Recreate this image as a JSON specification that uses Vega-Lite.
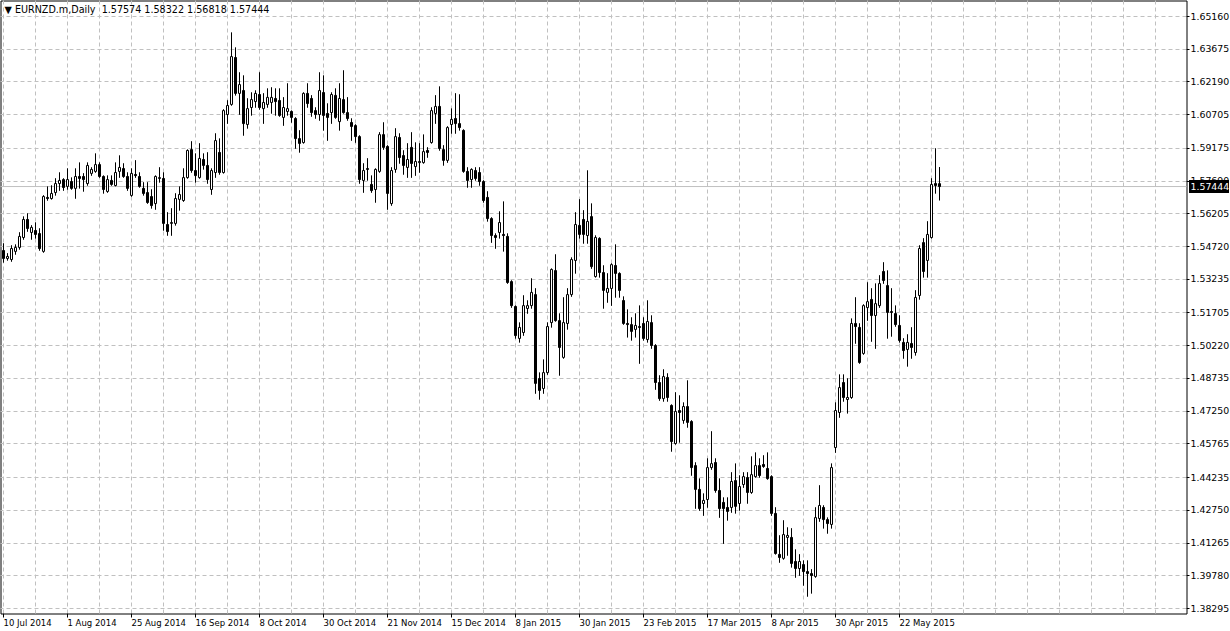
{
"$schema": "https://vega.github.io/schema/vega-lite/v6.json",
"width": 1186, "height": 613,
"autosize": {"type": "none"},
"padding": {"left": 0.5, "top": 0.5, "right": 43.5, "bottom": 17.5},
"background": "white",
"config": {"view": {"stroke": "black", "strokeWidth": 1}, "font": "DejaVu Sans",
 "scale": {"continuousPadding": 0},
 "axis": {"labelOverlap": false, "labelFlush": false, "labelBound": false, "title": null, "domain": false, "translate": 0,
  "gridColor": "#c0c0c0", "gridDash": [4, 3], "gridWidth": 1, "tickColor": "black",
  "labelFont": "DejaVu Sans", "labelFontSize": 9, "labelColor": "black"}},
"title": {"text": "▼ EURNZD.m,Daily\u00a0 1.57574 1.58322 1.56818 1.57444", "anchor": "start", "frame": "group", "offset": -14, "font": "DejaVu Sans", "fontSize": 9.6, "fontWeight": "normal", "color": "black", "dx": 4},
"data": {"values": [
{"i":0,"o":1.5454,"h":1.5486,"l":1.5400,"c":1.5418},
{"i":1,"o":1.5418,"h":1.5441,"l":1.5409,"c":1.5427},
{"i":2,"o":1.5413,"h":1.5477,"l":1.5404,"c":1.5463},
{"i":3,"o":1.5450,"h":1.5481,"l":1.5436,"c":1.5468},
{"i":4,"o":1.5468,"h":1.5536,"l":1.5459,"c":1.5518},
{"i":5,"o":1.5513,"h":1.5608,"l":1.5504,"c":1.5595},
{"i":6,"o":1.5595,"h":1.5622,"l":1.5540,"c":1.5554},
{"i":7,"o":1.5536,"h":1.5568,"l":1.5504,"c":1.5559},
{"i":8,"o":1.5545,"h":1.5581,"l":1.5509,"c":1.5527},
{"i":9,"o":1.5531,"h":1.5554,"l":1.5454,"c":1.5463},
{"i":10,"o":1.5450,"h":1.5704,"l":1.5445,"c":1.5699},
{"i":11,"o":1.5695,"h":1.5745,"l":1.5681,"c":1.5690},
{"i":12,"o":1.5690,"h":1.5749,"l":1.5686,"c":1.5713},
{"i":13,"o":1.5717,"h":1.5781,"l":1.5704,"c":1.5758},
{"i":14,"o":1.5758,"h":1.5808,"l":1.5726,"c":1.5772},
{"i":15,"o":1.5776,"h":1.5781,"l":1.5726,"c":1.5740},
{"i":16,"o":1.5745,"h":1.5826,"l":1.5731,"c":1.5776},
{"i":17,"o":1.5767,"h":1.5785,"l":1.5731,"c":1.5736},
{"i":18,"o":1.5736,"h":1.5826,"l":1.5690,"c":1.5790},
{"i":19,"o":1.5790,"h":1.5853,"l":1.5736,"c":1.5781},
{"i":20,"o":1.5790,"h":1.5804,"l":1.5722,"c":1.5776},
{"i":21,"o":1.5758,"h":1.5853,"l":1.5749,"c":1.5840},
{"i":22,"o":1.5804,"h":1.5831,"l":1.5794,"c":1.5822},
{"i":23,"o":1.5813,"h":1.5894,"l":1.5808,"c":1.5844},
{"i":24,"o":1.5844,"h":1.5853,"l":1.5785,"c":1.5790},
{"i":25,"o":1.5790,"h":1.5794,"l":1.5713,"c":1.5731},
{"i":26,"o":1.5722,"h":1.5794,"l":1.5717,"c":1.5776},
{"i":27,"o":1.5772,"h":1.5794,"l":1.5749,"c":1.5754},
{"i":28,"o":1.5749,"h":1.5853,"l":1.5745,"c":1.5808},
{"i":29,"o":1.5813,"h":1.5885,"l":1.5785,"c":1.5831},
{"i":30,"o":1.5826,"h":1.5849,"l":1.5785,"c":1.5790},
{"i":31,"o":1.5790,"h":1.5808,"l":1.5726,"c":1.5736},
{"i":32,"o":1.5704,"h":1.5826,"l":1.5699,"c":1.5804},
{"i":33,"o":1.5799,"h":1.5863,"l":1.5785,"c":1.5794},
{"i":34,"o":1.5790,"h":1.5808,"l":1.5740,"c":1.5745},
{"i":35,"o":1.5736,"h":1.5763,"l":1.5704,"c":1.5713},
{"i":36,"o":1.5717,"h":1.5763,"l":1.5667,"c":1.5672},
{"i":37,"o":1.5699,"h":1.5731,"l":1.5645,"c":1.5658},
{"i":38,"o":1.5667,"h":1.5794,"l":1.5640,"c":1.5790},
{"i":39,"o":1.5781,"h":1.5831,"l":1.5763,"c":1.5785},
{"i":40,"o":1.5781,"h":1.5808,"l":1.5545,"c":1.5577},
{"i":41,"o":1.5572,"h":1.5627,"l":1.5522,"c":1.5540},
{"i":42,"o":1.5577,"h":1.5645,"l":1.5522,"c":1.5581},
{"i":43,"o":1.5577,"h":1.5713,"l":1.5568,"c":1.5690},
{"i":44,"o":1.5686,"h":1.5745,"l":1.5636,"c":1.5708},
{"i":45,"o":1.5681,"h":1.5826,"l":1.5676,"c":1.5785},
{"i":46,"o":1.5785,"h":1.5912,"l":1.5781,"c":1.5908},
{"i":47,"o":1.5912,"h":1.5949,"l":1.5808,"c":1.5817},
{"i":48,"o":1.5817,"h":1.5894,"l":1.5763,"c":1.5794},
{"i":49,"o":1.5785,"h":1.5940,"l":1.5781,"c":1.5872},
{"i":50,"o":1.5867,"h":1.5894,"l":1.5822,"c":1.5840},
{"i":51,"o":1.5840,"h":1.5899,"l":1.5758,"c":1.5776},
{"i":52,"o":1.5731,"h":1.5826,"l":1.5708,"c":1.5817},
{"i":53,"o":1.5808,"h":1.5985,"l":1.5785,"c":1.5953},
{"i":54,"o":1.5899,"h":1.5962,"l":1.5799,"c":1.5808},
{"i":55,"o":1.5808,"h":1.6094,"l":1.5804,"c":1.6089},
{"i":56,"o":1.6071,"h":1.6135,"l":1.6030,"c":1.6112},
{"i":57,"o":1.6117,"h":1.6443,"l":1.6112,"c":1.6334},
{"i":58,"o":1.6330,"h":1.6375,"l":1.6158,"c":1.6167},
{"i":59,"o":1.6167,"h":1.6262,"l":1.6071,"c":1.6207},
{"i":60,"o":1.6180,"h":1.6248,"l":1.5976,"c":1.6030},
{"i":61,"o":1.6026,"h":1.6144,"l":1.6008,"c":1.6098},
{"i":62,"o":1.6103,"h":1.6171,"l":1.6067,"c":1.6139},
{"i":63,"o":1.6130,"h":1.6180,"l":1.6103,"c":1.6167},
{"i":64,"o":1.6162,"h":1.6262,"l":1.6094,"c":1.6103},
{"i":65,"o":1.6098,"h":1.6167,"l":1.6030,"c":1.6126},
{"i":66,"o":1.6117,"h":1.6189,"l":1.6103,"c":1.6149},
{"i":67,"o":1.6126,"h":1.6194,"l":1.6076,"c":1.6149},
{"i":68,"o":1.6144,"h":1.6189,"l":1.6067,"c":1.6130},
{"i":69,"o":1.6135,"h":1.6189,"l":1.6062,"c":1.6067},
{"i":70,"o":1.6058,"h":1.6149,"l":1.6021,"c":1.6103},
{"i":71,"o":1.6085,"h":1.6212,"l":1.6067,"c":1.6098},
{"i":72,"o":1.6085,"h":1.6089,"l":1.6035,"c":1.6058},
{"i":73,"o":1.6053,"h":1.6058,"l":1.5917,"c":1.5962},
{"i":74,"o":1.5962,"h":1.5999,"l":1.5899,"c":1.5940},
{"i":75,"o":1.5944,"h":1.6171,"l":1.5940,"c":1.6167},
{"i":76,"o":1.6167,"h":1.6212,"l":1.6103,"c":1.6121},
{"i":77,"o":1.6144,"h":1.6158,"l":1.6062,"c":1.6080},
{"i":78,"o":1.6089,"h":1.6103,"l":1.6053,"c":1.6071},
{"i":79,"o":1.6071,"h":1.6262,"l":1.6044,"c":1.6180},
{"i":80,"o":1.6171,"h":1.6248,"l":1.5999,"c":1.6067},
{"i":81,"o":1.6076,"h":1.6121,"l":1.5953,"c":1.6058},
{"i":82,"o":1.6080,"h":1.6171,"l":1.6030,"c":1.6162},
{"i":83,"o":1.6158,"h":1.6189,"l":1.6053,"c":1.6058},
{"i":84,"o":1.6039,"h":1.6212,"l":1.5999,"c":1.6144},
{"i":85,"o":1.6139,"h":1.6271,"l":1.6076,"c":1.6080},
{"i":86,"o":1.6080,"h":1.6149,"l":1.6044,"c":1.6053},
{"i":87,"o":1.6035,"h":1.6053,"l":1.5953,"c":1.6017},
{"i":88,"o":1.6021,"h":1.6026,"l":1.5944,"c":1.5971},
{"i":89,"o":1.5971,"h":1.5976,"l":1.5758,"c":1.5776},
{"i":90,"o":1.5772,"h":1.5849,"l":1.5717,"c":1.5817},
{"i":91,"o":1.5826,"h":1.5872,"l":1.5772,"c":1.5822},
{"i":92,"o":1.5754,"h":1.5794,"l":1.5717,"c":1.5726},
{"i":93,"o":1.5731,"h":1.5826,"l":1.5672,"c":1.5822},
{"i":94,"o":1.5813,"h":1.5990,"l":1.5808,"c":1.5980},
{"i":95,"o":1.5980,"h":1.6035,"l":1.5912,"c":1.5922},
{"i":96,"o":1.5926,"h":1.5931,"l":1.5640,"c":1.5713},
{"i":97,"o":1.5667,"h":1.5831,"l":1.5658,"c":1.5817},
{"i":98,"o":1.5822,"h":1.6008,"l":1.5808,"c":1.5971},
{"i":99,"o":1.5967,"h":1.5985,"l":1.5849,"c":1.5876},
{"i":100,"o":1.5885,"h":1.5908,"l":1.5799,"c":1.5840},
{"i":101,"o":1.5831,"h":1.5940,"l":1.5785,"c":1.5867},
{"i":102,"o":1.5922,"h":1.5990,"l":1.5785,"c":1.5849},
{"i":103,"o":1.5835,"h":1.5944,"l":1.5794,"c":1.5858},
{"i":104,"o":1.5853,"h":1.5940,"l":1.5808,"c":1.5858},
{"i":105,"o":1.5853,"h":1.5980,"l":1.5849,"c":1.5903},
{"i":106,"o":1.5908,"h":1.5922,"l":1.5876,"c":1.5899},
{"i":107,"o":1.5944,"h":1.6103,"l":1.5940,"c":1.6089},
{"i":108,"o":1.6076,"h":1.6158,"l":1.6030,"c":1.6108},
{"i":109,"o":1.6108,"h":1.6198,"l":1.5908,"c":1.5917},
{"i":110,"o":1.5912,"h":1.5931,"l":1.5840,"c":1.5863},
{"i":111,"o":1.5863,"h":1.6017,"l":1.5853,"c":1.6012},
{"i":112,"o":1.6026,"h":1.6098,"l":1.5985,"c":1.6049},
{"i":113,"o":1.6053,"h":1.6167,"l":1.5985,"c":1.6030},
{"i":114,"o":1.6030,"h":1.6162,"l":1.5999,"c":1.6012},
{"i":115,"o":1.5999,"h":1.6003,"l":1.5808,"c":1.5813},
{"i":116,"o":1.5813,"h":1.5831,"l":1.5740,"c":1.5772},
{"i":117,"o":1.5776,"h":1.5826,"l":1.5740,"c":1.5822},
{"i":118,"o":1.5817,"h":1.5831,"l":1.5772,"c":1.5781},
{"i":119,"o":1.5808,"h":1.5831,"l":1.5749,"c":1.5767},
{"i":120,"o":1.5767,"h":1.5772,"l":1.5672,"c":1.5681},
{"i":121,"o":1.5695,"h":1.5722,"l":1.5586,"c":1.5599},
{"i":122,"o":1.5599,"h":1.5604,"l":1.5490,"c":1.5522},
{"i":123,"o":1.5522,"h":1.5531,"l":1.5463,"c":1.5513},
{"i":124,"o":1.5536,"h":1.5631,"l":1.5509,"c":1.5581},
{"i":125,"o":1.5527,"h":1.5676,"l":1.5450,"c":1.5522},
{"i":126,"o":1.5518,"h":1.5531,"l":1.5304,"c":1.5309},
{"i":127,"o":1.5313,"h":1.5318,"l":1.5195,"c":1.5204},
{"i":128,"o":1.5200,"h":1.5204,"l":1.5055,"c":1.5068},
{"i":129,"o":1.5055,"h":1.5127,"l":1.5037,"c":1.5105},
{"i":130,"o":1.5082,"h":1.5250,"l":1.5068,"c":1.5204},
{"i":131,"o":1.5191,"h":1.5227,"l":1.5168,"c":1.5204},
{"i":132,"o":1.5204,"h":1.5327,"l":1.5191,"c":1.5264},
{"i":133,"o":1.5254,"h":1.5282,"l":1.4805,"c":1.4851},
{"i":134,"o":1.4873,"h":1.4900,"l":1.4778,"c":1.4819},
{"i":135,"o":1.4828,"h":1.4959,"l":1.4805,"c":1.4900},
{"i":136,"o":1.4900,"h":1.5127,"l":1.4891,"c":1.5109},
{"i":137,"o":1.5127,"h":1.5372,"l":1.5105,"c":1.5368},
{"i":138,"o":1.5363,"h":1.5436,"l":1.5132,"c":1.5136},
{"i":139,"o":1.5136,"h":1.5168,"l":1.4887,"c":1.5014},
{"i":140,"o":1.4969,"h":1.5241,"l":1.4964,"c":1.5127},
{"i":141,"o":1.5123,"h":1.5282,"l":1.5096,"c":1.5254},
{"i":142,"o":1.5254,"h":1.5422,"l":1.5245,"c":1.5413},
{"i":143,"o":1.5409,"h":1.5627,"l":1.5350,"c":1.5572},
{"i":144,"o":1.5568,"h":1.5686,"l":1.5509,"c":1.5527},
{"i":145,"o":1.5595,"h":1.5636,"l":1.5486,"c":1.5527},
{"i":146,"o":1.5522,"h":1.5817,"l":1.5486,"c":1.5586},
{"i":147,"o":1.5608,"h":1.5667,"l":1.5372,"c":1.5381},
{"i":148,"o":1.5336,"h":1.5522,"l":1.5332,"c":1.5513},
{"i":149,"o":1.5509,"h":1.5513,"l":1.5332,"c":1.5354},
{"i":150,"o":1.5354,"h":1.5386,"l":1.5191,"c":1.5273},
{"i":151,"o":1.5264,"h":1.5350,"l":1.5218,"c":1.5282},
{"i":152,"o":1.5282,"h":1.5395,"l":1.5204,"c":1.5390},
{"i":153,"o":1.5386,"h":1.5481,"l":1.5241,"c":1.5350},
{"i":154,"o":1.5350,"h":1.5354,"l":1.5241,"c":1.5273},
{"i":155,"o":1.5227,"h":1.5245,"l":1.5118,"c":1.5123},
{"i":156,"o":1.5123,"h":1.5186,"l":1.5060,"c":1.5118},
{"i":157,"o":1.5118,"h":1.5150,"l":1.5046,"c":1.5087},
{"i":158,"o":1.5096,"h":1.5168,"l":1.5060,"c":1.5114},
{"i":159,"o":1.5109,"h":1.5204,"l":1.4941,"c":1.5105},
{"i":160,"o":1.5123,"h":1.5150,"l":1.5046,"c":1.5055},
{"i":161,"o":1.5050,"h":1.5227,"l":1.5037,"c":1.5132},
{"i":162,"o":1.5127,"h":1.5159,"l":1.5009,"c":1.5023},
{"i":163,"o":1.5023,"h":1.5028,"l":1.4823,"c":1.4855},
{"i":164,"o":1.4855,"h":1.4887,"l":1.4773,"c":1.4782},
{"i":165,"o":1.4782,"h":1.4914,"l":1.4769,"c":1.4882},
{"i":166,"o":1.4878,"h":1.4896,"l":1.4769,"c":1.4787},
{"i":167,"o":1.4751,"h":1.4755,"l":1.4542,"c":1.4587},
{"i":168,"o":1.4578,"h":1.4810,"l":1.4574,"c":1.4724},
{"i":169,"o":1.4728,"h":1.4796,"l":1.4583,"c":1.4719},
{"i":170,"o":1.4683,"h":1.4764,"l":1.4669,"c":1.4746},
{"i":171,"o":1.4746,"h":1.4864,"l":1.4651,"c":1.4674},
{"i":172,"o":1.4678,"h":1.4683,"l":1.4433,"c":1.4469},
{"i":173,"o":1.4478,"h":1.4492,"l":1.4283,"c":1.4370},
{"i":174,"o":1.4370,"h":1.4419,"l":1.4274,"c":1.4283},
{"i":175,"o":1.4306,"h":1.4351,"l":1.4251,"c":1.4320},
{"i":176,"o":1.4324,"h":1.4510,"l":1.4288,"c":1.4469},
{"i":177,"o":1.4469,"h":1.4633,"l":1.4460,"c":1.4487},
{"i":178,"o":1.4492,"h":1.4510,"l":1.4356,"c":1.4365},
{"i":179,"o":1.4365,"h":1.4419,"l":1.4242,"c":1.4283},
{"i":180,"o":1.4311,"h":1.4333,"l":1.4124,"c":1.4283},
{"i":181,"o":1.4288,"h":1.4333,"l":1.4229,"c":1.4270},
{"i":182,"o":1.4288,"h":1.4447,"l":1.4265,"c":1.4406},
{"i":183,"o":1.4410,"h":1.4487,"l":1.4261,"c":1.4293},
{"i":184,"o":1.4306,"h":1.4433,"l":1.4274,"c":1.4383},
{"i":185,"o":1.4392,"h":1.4447,"l":1.4378,"c":1.4428},
{"i":186,"o":1.4424,"h":1.4447,"l":1.4306,"c":1.4356},
{"i":187,"o":1.4356,"h":1.4519,"l":1.4351,"c":1.4437},
{"i":188,"o":1.4428,"h":1.4537,"l":1.4424,"c":1.4478},
{"i":189,"o":1.4478,"h":1.4510,"l":1.4424,"c":1.4433},
{"i":190,"o":1.4483,"h":1.4524,"l":1.4469,"c":1.4474},
{"i":191,"o":1.4465,"h":1.4537,"l":1.4415,"c":1.4419},
{"i":192,"o":1.4428,"h":1.4433,"l":1.4251,"c":1.4261},
{"i":193,"o":1.4261,"h":1.4288,"l":1.4075,"c":1.4079},
{"i":194,"o":1.4075,"h":1.4161,"l":1.4038,"c":1.4061},
{"i":195,"o":1.4057,"h":1.4229,"l":1.4052,"c":1.4165},
{"i":196,"o":1.4152,"h":1.4197,"l":1.4070,"c":1.4161},
{"i":197,"o":1.4152,"h":1.4193,"l":1.4016,"c":1.4034},
{"i":198,"o":1.4043,"h":1.4097,"l":1.3970,"c":1.4011},
{"i":199,"o":1.4011,"h":1.4075,"l":1.3979,"c":1.4043},
{"i":200,"o":1.4029,"h":1.4047,"l":1.3934,"c":1.3997},
{"i":201,"o":1.3997,"h":1.4047,"l":1.3884,"c":1.3988},
{"i":202,"o":1.3988,"h":1.4007,"l":1.3898,"c":1.3979},
{"i":203,"o":1.3975,"h":1.4288,"l":1.3970,"c":1.4242},
{"i":204,"o":1.4238,"h":1.4388,"l":1.4224,"c":1.4297},
{"i":205,"o":1.4288,"h":1.4297,"l":1.4193,"c":1.4233},
{"i":206,"o":1.4233,"h":1.4242,"l":1.4170,"c":1.4215},
{"i":207,"o":1.4211,"h":1.4487,"l":1.4193,"c":1.4469},
{"i":208,"o":1.4560,"h":1.4764,"l":1.4537,"c":1.4728},
{"i":209,"o":1.4719,"h":1.4891,"l":1.4696,"c":1.4832},
{"i":210,"o":1.4855,"h":1.4891,"l":1.4769,"c":1.4787},
{"i":211,"o":1.4778,"h":1.4873,"l":1.4715,"c":1.4787},
{"i":212,"o":1.4787,"h":1.5145,"l":1.4782,"c":1.5123},
{"i":213,"o":1.5123,"h":1.5241,"l":1.5032,"c":1.5109},
{"i":214,"o":1.5105,"h":1.5123,"l":1.4941,"c":1.4946},
{"i":215,"o":1.4987,"h":1.5209,"l":1.4982,"c":1.5204},
{"i":216,"o":1.5195,"h":1.5309,"l":1.5136,"c":1.5222},
{"i":217,"o":1.5232,"h":1.5282,"l":1.5041,"c":1.5159},
{"i":218,"o":1.5159,"h":1.5304,"l":1.5009,"c":1.5213},
{"i":219,"o":1.5204,"h":1.5341,"l":1.5195,"c":1.5304},
{"i":220,"o":1.5359,"h":1.5400,"l":1.5304,"c":1.5318},
{"i":221,"o":1.5295,"h":1.5363,"l":1.5055,"c":1.5173},
{"i":222,"o":1.5177,"h":1.5282,"l":1.5064,"c":1.5173},
{"i":223,"o":1.5168,"h":1.5204,"l":1.5109,"c":1.5118},
{"i":224,"o":1.5114,"h":1.5159,"l":1.5037,"c":1.5046},
{"i":225,"o":1.5037,"h":1.5055,"l":1.4964,"c":1.5000},
{"i":226,"o":1.5005,"h":1.5073,"l":1.4928,"c":1.5037},
{"i":227,"o":1.5032,"h":1.5105,"l":1.4964,"c":1.5014},
{"i":228,"o":1.4991,"h":1.5273,"l":1.4978,"c":1.5241},
{"i":229,"o":1.5250,"h":1.5477,"l":1.5232,"c":1.5463},
{"i":230,"o":1.5490,"h":1.5509,"l":1.5332,"c":1.5359},
{"i":231,"o":1.5409,"h":1.5586,"l":1.5332,"c":1.5527},
{"i":232,"o":1.5513,"h":1.5781,"l":1.5509,"c":1.5754},
{"i":233,"o":1.5758,"h":1.5917,"l":1.5713,"c":1.5749},
{"i":234,"o":1.57574,"h":1.58322,"l":1.56818,"c":1.57444}
]},
"layer": [
{"mark": {"type": "rule", "color": "black", "strokeWidth": 1},
 "encoding": {
  "x": {"field": "i", "type": "quantitative", "title": null,
   "scale": {"domain": [-0.75, 295.75], "nice": false, "zero": false, "padding": 0},
   "axis": {"orient": "bottom", "tickCount": 200, "values": [0,8,16,24,32,40,48,56,64,72,80,88,96,104,112,120,128,136,144,152,160,168,176,184,192,200,208,216,224,232,240,248,256,264,272,280,288],
    "labelExpr": "datum.value % 16 === 0 && datum.value <= 224 ? ['10 Jul 2014','1 Aug 2014','25 Aug 2014','16 Sep 2014','8 Oct 2014','30 Oct 2014','21 Nov 2014','15 Dec 2014','8 Jan 2015','30 Jan 2015','23 Feb 2015','17 Mar 2015','8 Apr 2015','30 Apr 2015','22 May 2015'][datum.value / 16] : ''",
    "grid": true, "tickSize": 4,
    "tickOpacity": {"condition": {"test": "datum.value % 16 === 0 && datum.value <= 224", "value": 1}, "value": 0},
    "labelAlign": "left", "labelPadding": 1, "labelFontSize": 8.5}},
  "y": {"field": "l", "type": "quantitative", "title": null,
   "scale": {"domain": [1.380682, 1.658861], "nice": false, "zero": false, "padding": 0},
   "axis": {"orient": "right", "tickCount": 200, "values": [1.65160,1.63675,1.62190,1.60705,1.59175,1.57690,1.56205,1.54720,1.53235,1.51705,1.50220,1.48735,1.47250,1.45765,1.44235,1.42750,1.41265,1.39780,1.38295],
    "format": ".5f", "grid": true, "tickSize": 3, "labelPadding": 1, "labelFontSize": 9.4}},
  "y2": {"field": "h"}}},
{"mark": {"type": "rule", "color": "#c0c0c0", "strokeWidth": 1},
 "data": {"values": [{"p": 1.57444}]},
 "encoding": {"y": {"field": "p", "type": "quantitative", "title": null}}},
{"mark": {"type": "rule", "color": "black", "strokeWidth": 1},
 "encoding": {
  "x": {"field": "i", "type": "quantitative", "title": null},
  "y": {"field": "l", "type": "quantitative", "title": null},
  "y2": {"field": "h"}}},
{"mark": {"type": "bar", "width": 2, "stroke": "black", "strokeWidth": 1},
 "encoding": {
  "x": {"field": "i", "type": "quantitative", "title": null},
  "y": {"field": "o", "type": "quantitative", "title": null},
  "y2": {"field": "c"},
  "fill": {"condition": {"test": "datum.c > datum.o", "value": "white"}, "value": "black"}}},
{"mark": {"type": "rect", "color": "black"},
 "data": {"values": [{"p": 1.57444}]},
 "encoding": {
  "x": {"datum": 296.375, "type": "quantitative", "title": null},
  "x2": {"datum": 306.375},
  "y": {"datum": 1.5774, "type": "quantitative", "title": null},
  "y2": {"datum": 1.5715}}},
{"mark": {"type": "text", "color": "white", "align": "left", "baseline": "middle", "font": "DejaVu Sans", "fontSize": 9.4},
 "data": {"values": [{"p": 1.57444, "t": "1.57444"}]},
 "encoding": {
  "x": {"datum": 296.75, "type": "quantitative", "title": null},
  "y": {"field": "p", "type": "quantitative", "title": null},
  "text": {"field": "t"}}}
]
}
